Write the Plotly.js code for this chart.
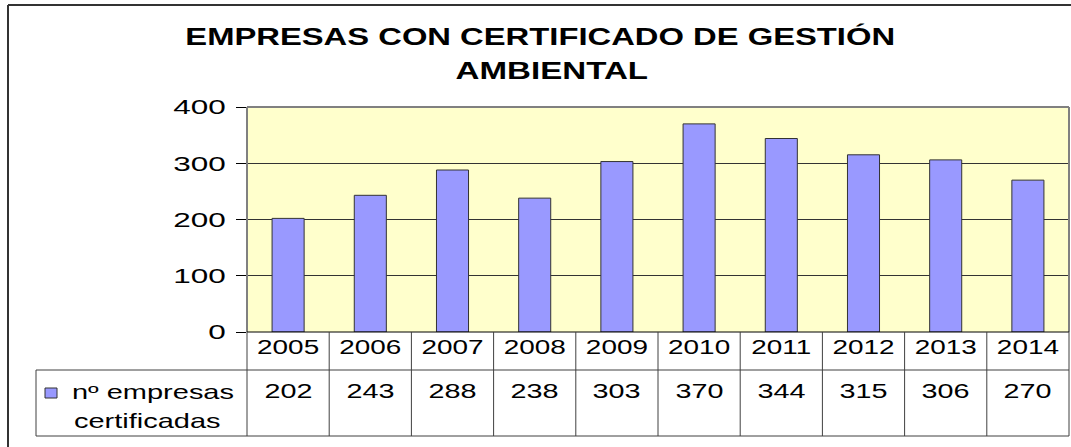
<!DOCTYPE html>
<html>
<head>
<meta charset="utf-8">
<script src="https://cdn.plot.ly/plotly-3.0.1.min.js"></script>
<style>
  html, body { margin: 0; padding: 0; background: #fff; }
  #chart { width: 1071px; height: 447px; }
</style>
</head>
<body>
<div id="chart"></div>
<script>
// ---- data ----
const years = ['2005', '2006', '2007', '2008', '2009', '2010', '2011', '2012', '2013', '2014'];
const empresas = [202, 243, 288, 238, 303, 370, 344, 315, 306, 270];
const yTicks = [0, 100, 200, 300, 400];
const titleLines = ['EMPRESAS CON CERTIFICADO DE GESTIÓN', 'AMBIENTAL'];
const seriesLabel = ['nº empresas', 'certificadas'];

// ---- geometry helpers (pixel -> paper) ----
const W = 1071, H = 447;
const M = { l: 247, r: 2, t: 107, b: 115 };
const PW = W - M.l - M.r, PH = H - M.t - M.b;
const X = px => (px - M.l) / PW;
const Y = py => (H - M.b - py) / PH;
const N = years.length;
const colX = i => (i + 0.5) / N;      // paper x of category centre
const sepX = i => i / N;              // paper x of category boundary

const FONT = 'Liberation Sans, Arial, sans-serif';
const BAR = '#9999FF';
const EDGE = '#333333';
const TABLE = '#404040';

const shapes = [];
const line = (x0, y0, x1, y1, color, width) => shapes.push({
  type: 'line', xref: 'paper', yref: 'paper',
  x0: x0, y0: y0, x1: x1, y1: y1, line: { color: color, width: width }
});

// plot area border (gray) left/top/right
line(0, 0, 0, 1, '#808080', 2);
line(0, 1, 1, 1, '#808080', 2);
line(1, 0, 1, 1, '#808080', 2);
// data table
line(0, 0, 1, 0, '#000000', 1);
line(X(36), Y(370), 1, Y(370), TABLE, 1);
line(X(36), Y(436), 1, Y(436), TABLE, 1);
line(X(36), Y(370), X(36), Y(436), TABLE, 1);
for (let i = 0; i <= N; i++) line(sepX(i), Y(436), sepX(i), 0, TABLE, 1);
// legend key
shapes.push({ type: 'rect', xref: 'paper', yref: 'paper',
  x0: X(45), x1: X(57), y0: Y(398), y1: Y(388),
  fillcolor: BAR, line: { color: EDGE, width: 1 } });
// outer frame
line(X(8), Y(5), X(W + 2), Y(5), '#333333', 2);
line(X(8), Y(5), X(8), Y(H + 2), '#333333', 2);

const annotations = [];
const annScale = [];
const ann = (o, s) => { annotations.push(Object.assign({ showarrow: false, xref: 'paper', yref: 'paper' }, o)); annScale.push(s); };

ann({ x: X(540), y: Y(36.7), xanchor: 'center', yanchor: 'middle', text: '<b>' + titleLines[0] + '</b>',
      font: { family: FONT, size: 23, color: '#000' } }, 1.425);
ann({ x: X(551.5), y: Y(70.5), xanchor: 'center', yanchor: 'middle', text: '<b>' + titleLines[1] + '</b>',
      font: { family: FONT, size: 23, color: '#000' } }, 1.44);
empresas.forEach((v, i) => {
  ann({ x: colX(i), y: Y(390), xanchor: 'center', yanchor: 'middle', text: String(v),
        font: { family: FONT, size: 21, color: '#000' } }, 1.37);
});
ann({ x: X(70), y: Y(391.5), xanchor: 'left', yanchor: 'middle', align: 'left', text: seriesLabel[0],
      font: { family: FONT, size: 20, color: '#000' } }, 1.45);
ann({ x: X(72), y: Y(420.5), xanchor: 'left', yanchor: 'middle', align: 'left', text: seriesLabel[1],
      font: { family: FONT, size: 20, color: '#000' } }, 1.45);

const data = [{
  type: 'bar', x: years, y: empresas, name: seriesLabel.join(' '),
  marker: { color: BAR, line: { color: EDGE, width: 1 } },
  hoverinfo: 'skip'
}];

const layout = {
  width: W, height: H,
  margin: M,
  paper_bgcolor: '#ffffff', plot_bgcolor: '#FFFFCC',
  showlegend: false,
  bargap: 0.61,
  font: { family: FONT, color: '#000' },
  xaxis: {
    type: 'category', categoryarray: years, categoryorder: 'array',
    range: [-0.5, N - 0.5], autorange: false,
    showgrid: false, zeroline: false, showline: false, ticks: '',
    tickfont: { family: FONT, size: 21, color: '#000' },
    ticklabelstandoff: 0, fixedrange: true
  },
  yaxis: {
    range: [0, 400], autorange: false, tickvals: yTicks, ticktext: yTicks.map(String),
    showgrid: true, gridcolor: '#333333', gridwidth: 1,
    zeroline: false, showline: false,
    ticks: 'outside', ticklen: 10, tickcolor: '#000', tickwidth: 1,
    tickfont: { family: FONT, size: 21, color: '#000' },
    ticklabelstandoff: 6, fixedrange: true
  },
  shapes: shapes,
  annotations: annotations
};

function stretch(el, s) {
  let cx = parseFloat(el.getAttribute('x'));
  if (isNaN(cx)) {
    const bb = el.getBBox();
    const a = el.getAttribute('text-anchor') || 'start';
    cx = a === 'middle' ? bb.x + bb.width / 2 : a === 'end' ? bb.x + bb.width : bb.x;
  }
  const t = el.getAttribute('transform') || '';
  el.setAttribute('transform', t + ' translate(' + cx + ',0) scale(' + s + ',1) translate(' + (-cx) + ',0)');
}

Plotly.newPlot('chart', data, layout, { displayModeBar: false, staticPlot: true }).then(gd => {
  gd.querySelectorAll('.ytick text').forEach(el => stretch(el, 1.5));
  gd.querySelectorAll('.xtick text').forEach(el => stretch(el, 1.33));
  gd.querySelectorAll('.annotation').forEach(g => {
    const idx = parseInt(g.getAttribute('data-index'), 10);
    const s = annScale[idx] || 1;
    g.querySelectorAll('text.annotation-text').forEach(el => stretch(el, s));
  });
});
</script>
</body>
</html>
